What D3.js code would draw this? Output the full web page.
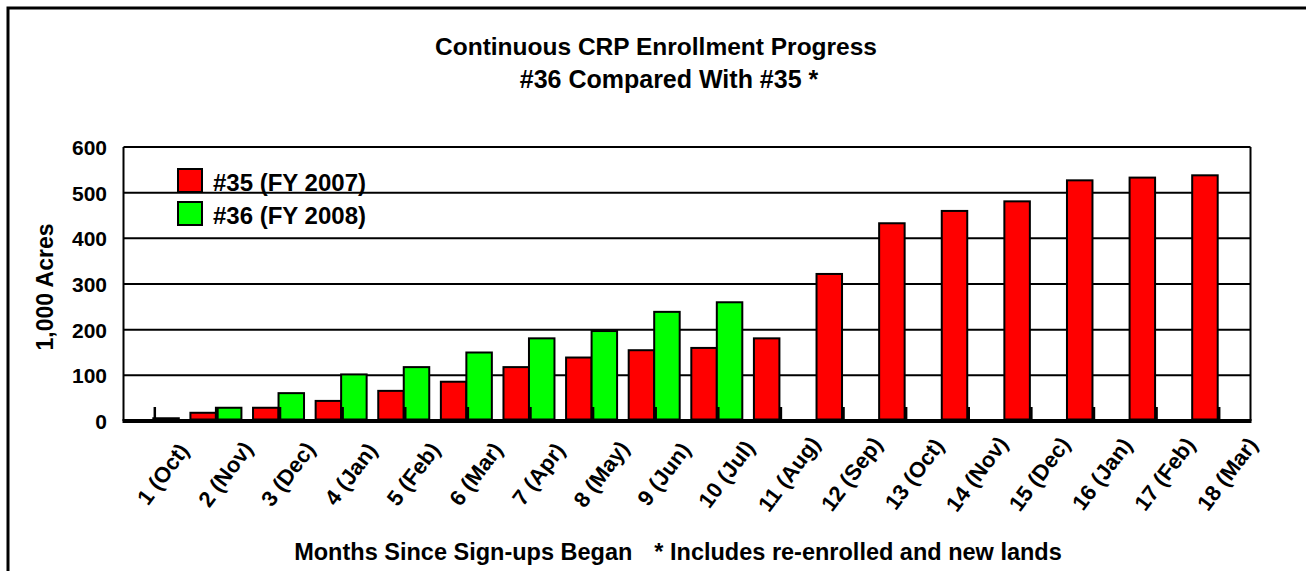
<!DOCTYPE html>
<html><head><meta charset="utf-8">
<script src="https://cdn.jsdelivr.net/npm/d3@7/dist/d3.min.js"></script>
<style>
html,body{margin:0;padding:0;background:#fff;}
svg text{font-family:"Liberation Sans",Arial,Helvetica,sans-serif;font-weight:bold;fill:#000;}
</style></head>
<body>
<svg id="chart" width="1306" height="571"></svg>
<script>
const categories = ["1 (Oct)","2 (Nov)","3 (Dec)","4 (Jan)","5 (Feb)","6 (Mar)","7 (Apr)","8 (May)","9 (Jun)","10 (Jul)","11 (Aug)","12 (Sep)","13 (Oct)","14 (Nov)","15 (Dec)","16 (Jan)","17 (Feb)","18 (Mar)"];
const series35 = [1,18,29,44,66,86,118,139,155,160,181,322,433,460,481,527,533,538];
const series36 = [6,29,61,102,118,150,181,197,239,260,null,null,null,null,null,null,null,null];
const yTicks = [0,100,200,300,400,500,600];
const seriesNames = ["#35 (FY 2007)","#36 (FY 2008)"];
const seriesColors = ["#ff0000","#00ff00"];
const titleText = "Continuous CRP Enrollment Progress";
const subtitleText = "#36 Compared With #35 *";
const yTitle = "1,000 Acres";
const xNote1 = "Months Since Sign-ups Began";
const xNote2 = "* Includes re-enrolled and new lands";

const svg = d3.select("#chart");
const L = 123.5, R = 1250.5, T = 147, B = 421;
const x = d3.scaleBand().domain(categories).range([L, R]).padding(0);
const y = d3.scaleLinear().domain([0, 600]).range([B, T]);
const bw = 25.5;

// outer frame
svg.append("rect").attr("x", 8).attr("y", 8).attr("width", 1320).attr("height", 600)
  .attr("fill", "none").attr("stroke", "#000").attr("stroke-width", 3);

// titles
svg.append("text").attr("x", 656).attr("y", 55).attr("text-anchor", "middle")
  .attr("font-size", 24.5).text(titleText);
svg.append("text").attr("x", 669).attr("y", 88).attr("text-anchor", "middle")
  .attr("font-size", 25).text(subtitleText);

// gridlines
const g = svg.append("g");
g.selectAll("line.grid").data(yTicks.filter(d => d > 0)).join("line")
  .attr("x1", L).attr("x2", R).attr("y1", d => y(d)).attr("y2", d => y(d))
  .attr("stroke", "#000").attr("stroke-width", 2);
g.append("line").attr("x1", L).attr("x2", L).attr("y1", T).attr("y2", B).attr("stroke", "#000").attr("stroke-width", 2);
g.append("line").attr("x1", R).attr("x2", R).attr("y1", T).attr("y2", B).attr("stroke", "#000").attr("stroke-width", 2);

// y labels
svg.selectAll("text.ytick").data(yTicks).join("text").attr("class", "ytick")
  .attr("x", 107).attr("y", d => y(d) + 8).attr("text-anchor", "end")
  .attr("font-size", 21).text(d => d);

// y title
svg.append("text").attr("transform", "translate(53,287) rotate(-90)")
  .attr("text-anchor", "middle").attr("font-size", 23).text(yTitle);

// bars
const cx = d => x(d) + x.bandwidth() / 2;
svg.append("g").selectAll("rect").data(categories.map((c, i) => ({c, v: series35[i]}))).join("rect")
  .attr("x", d => cx(d.c) - 27).attr("width", bw)
  .attr("y", d => y(d.v)).attr("height", d => Math.max(0, B - 1.5 - y(d.v)))
  .attr("fill", seriesColors[0]).attr("stroke", "#000").attr("stroke-width", 2);
svg.append("g").selectAll("rect").data(categories.map((c, i) => ({c, v: series36[i]})).filter(d => d.v != null)).join("rect")
  .attr("x", d => cx(d.c) - 1.5).attr("width", bw)
  .attr("y", d => y(d.v)).attr("height", d => Math.max(0, B - 1.5 - y(d.v)))
  .attr("fill", seriesColors[1]).attr("stroke", "#000").attr("stroke-width", 2);

// ticks at category centers
svg.append("g").selectAll("line").data(categories).join("line")
  .attr("x1", d => cx(d)).attr("x2", d => cx(d)).attr("y1", B).attr("y2", B - 14)
  .attr("stroke", "#000").attr("stroke-width", 2.5);

// bottom axis
svg.append("line").attr("x1", L - 1).attr("x2", R + 1).attr("y1", B).attr("y2", B)
  .attr("stroke", "#000").attr("stroke-width", 4);

// x labels (centred on their middle)
svg.selectAll("text.xl").data(categories).join("text").attr("class", "xl")
  .attr("transform", d => `translate(${cx(d) + 8},${474}) rotate(-53)`)
  .attr("text-anchor", "middle").attr("dy", "0.35em").attr("font-size", 22).text(d => d);

// legend
const lg = svg.append("g");
seriesNames.forEach((n, i) => {
  lg.append("rect").attr("x", 178).attr("y", 169 + i * 33).attr("width", 24).attr("height", 23)
    .attr("fill", seriesColors[i]).attr("stroke", "#000").attr("stroke-width", 2);
  lg.append("text").attr("x", 213).attr("y", 191 + i * 33).attr("font-size", 24).text(n);
});

// x note
const nt = svg.append("text").attr("x", 678).attr("y", 560).attr("text-anchor", "middle").attr("font-size", 23.5);
nt.append("tspan").text(xNote1);
nt.append("tspan").attr("dx", 22).text(xNote2);
</script>
</body></html>
